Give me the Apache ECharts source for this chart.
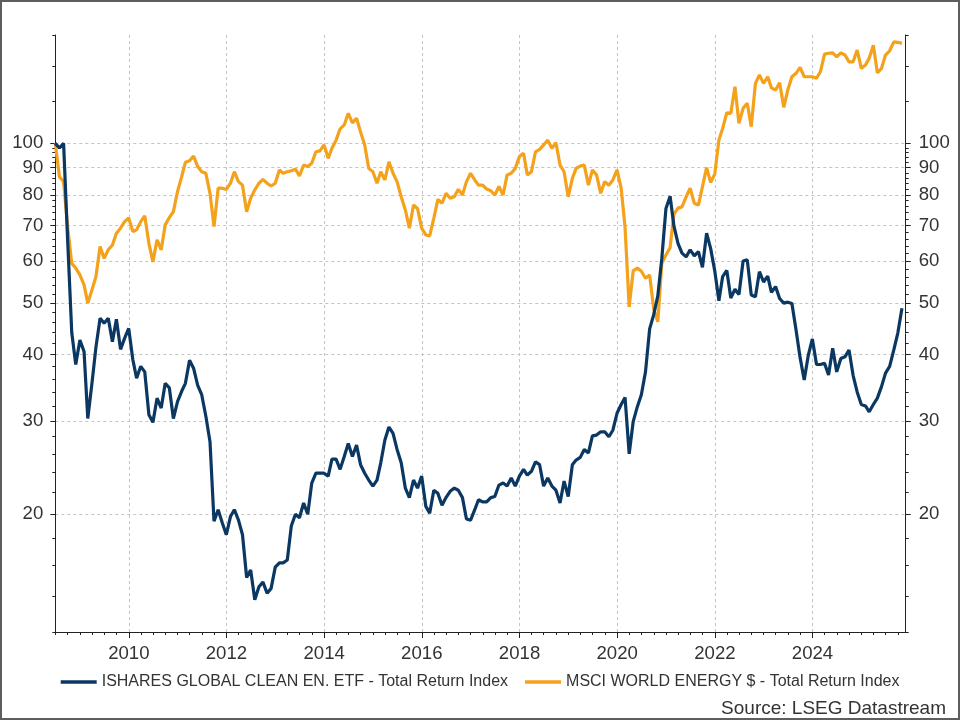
<!DOCTYPE html>
<html lang="en">
<head>
    <meta charset="UTF-8">
    <title>Clean energy vs world energy</title>
    <script src="https://cdn.jsdelivr.net/npm/echarts@6/dist/echarts.min.js"></script>
    <style>
        html, body { margin: 0; padding: 0; background: #fff; }
        #main { width: 960px; height: 720px; }
    </style>
</head>
<body>

<div id="main"></div>

<script type="text/javascript">
    // monthly values, first point = end of June 2008 (indexed to 100)
    var firstYear = 2008, firstMonth = 6;

    var cleanEnergy = [
        100, 98, 100, 66, 44, 38.3, 42.6, 40.5, 30.3, 35.3, 41.3, 46.8,
        45.8, 46.8, 42.3, 46.6, 40.9, 42.9, 44.8, 39.1, 36.1, 38.0, 37.1, 30.8,
        29.8, 33.1, 31.7, 35.3, 34.6, 30.3, 32.6, 34.1, 35.3, 39.0, 37.7, 35.0,
        33.6, 30.6, 27.4, 19.4, 20.4, 19.3, 18.3, 19.8, 20.4, 19.5, 18.3, 15.2,
        15.7, 13.8, 14.6, 14.9, 14.2, 14.5, 15.9, 16.2, 16.2, 16.4, 19.0, 20.0,
        19.7, 21.0, 20.0, 22.9, 23.9, 23.9, 23.9, 23.6, 25.4, 25.4, 24.3, 25.7,
        27.2, 25.7, 27.0, 24.8, 23.9, 23.2, 22.6, 23.2, 25.0, 27.6, 29.2, 28.4,
        26.5, 25.0, 22.4, 21.5, 23.2, 22.4, 23.6, 20.7, 20.1, 22.2, 21.9, 20.8,
        21.5, 22.1, 22.4, 22.2, 21.5, 19.6, 19.5, 20.4, 21.3, 21.1, 21.1, 21.5,
        21.6, 22.7, 22.9, 22.6, 23.4, 22.6, 23.6, 24.3, 23.7, 24.1, 25.1, 24.8,
        22.6, 23.4, 22.6, 22.2, 21.0, 23.1, 21.6, 24.8, 25.3, 25.6, 26.5, 26.1,
        28.1, 28.2, 28.6, 28.6, 28.0, 28.8, 31.0, 32.2, 33.2, 26.0, 29.9, 31.9,
        33.6, 37.1, 44.7, 47.5, 51.6, 60.7, 75.4, 79.5, 70.0, 64.8, 62.1, 61.1,
        63.0, 61.4, 62.5, 58.4, 67.7, 63.4, 57.5, 50.5, 56.1, 57.6, 51.1, 53.1,
        51.9, 60.0, 60.3, 51.8, 51.4, 57.3, 54.8, 56.2, 52.4, 53.7, 51.0, 50.0,
        50.2, 49.9, 44.5, 39.5, 35.8, 39.8, 42.8, 38.3, 38.3, 38.5, 36.6, 41.1,
        37.1, 39.3, 39.6, 40.8, 36.5, 34.0, 32.2, 32.0, 31.2, 32.2, 33.1, 34.8,
        36.9, 38.0, 40.8, 43.9, 48.9
    ];

    var worldEnergy = [
        100, 86.5, 84.7, 69.7, 59.4, 58.2, 56.5, 54.1, 50.0, 52.9, 56.1, 63.9,
        60.7, 63.0, 64.3, 67.7, 69.2, 71.2, 72.3, 68.2, 68.7, 71.2, 73.0, 64.8,
        59.8, 65.8, 63.0, 70.2, 72.5, 74.3, 81.1, 86.5, 92.1, 92.7, 94.6, 90.4,
        88.4, 87.8, 80.5, 69.7, 82.3, 82.3, 81.9, 84.1, 88.4, 84.7, 83.4, 74.3,
        78.8, 81.7, 84.1, 85.5, 84.1, 83.1, 84.1, 89.1, 87.8, 88.4, 88.8, 89.4,
        86.8, 91.0, 90.4, 91.7, 96.4, 96.8, 99.3, 93.7, 97.9, 101.4, 106.5, 108.3,
        113.9, 109.3, 111.5, 105.1, 99.3, 89.7, 88.4, 84.1, 88.4, 85.3, 92.3, 87.8,
        84.7, 79.3, 74.9, 69.2, 76.5, 75.4, 69.2, 67.2, 66.9, 72.3, 78.4, 77.1,
        80.5, 78.8, 79.3, 81.9, 79.9, 84.7, 87.8, 85.3, 83.4, 83.4, 82.0, 81.4,
        79.9, 82.9, 79.9, 87.2, 87.8, 89.7, 94.4, 95.8, 87.2, 88.4, 96.4, 97.4,
        99.3, 101.4, 97.9, 100.3, 91.0, 88.4, 79.3, 85.9, 89.7, 90.6, 91.0, 83.4,
        89.1, 87.2, 80.5, 84.7, 83.4, 85.3, 89.1, 82.3, 69.5, 49.2, 57.5, 58.2,
        57.4, 55.7, 56.5, 48.8, 46.1, 59.4, 61.6, 63.6, 73.5, 75.5, 75.9, 79.3,
        82.3, 77.1, 76.5, 82.9, 90.0, 84.4, 87.5, 101.4, 106.7, 114.2, 113.9, 127.8,
        109.1, 116.4, 119.0, 107.5, 129.7, 134.5, 129.7, 133.5, 127.2, 126.0, 130.1, 116.9,
        126.0, 133.5, 135.5, 139.0, 133.5, 133.5, 133.5, 132.6, 136.4, 147.3, 147.8, 148.1,
        145.6, 148.1, 146.7, 142.4, 142.4, 149.9, 138.4, 140.4, 144.6, 153.1, 135.8, 138.4,
        146.7, 149.4, 155.3, 155.0, 154.3
    ];

    var seriesNames = [
        'ISHARES GLOBAL CLEAN EN. ETF - Total Return Index',
        'MSCI WORLD ENERGY $ - Total Return Index'
    ];
    var seriesColors = ['#0b3763', '#f4a11c'];

    var yLabelValues = [20, 30, 40, 50, 60, 70, 80, 90, 100];
    var yMinorValues = [12, 14, 16, 18, 22, 24, 26, 28, 32, 34, 36, 38,
        42, 44, 46, 48, 52, 54, 56, 58, 62, 64, 66, 68, 72, 74, 76, 78,
        82, 84, 86, 88, 92, 94, 96, 98, 120, 140, 160];
    var xLabelYears = [2010, 2012, 2014, 2016, 2018, 2020, 2022, 2024];

    // dates: last day of each month (timestamps on a value axis)
    var dates = cleanEnergy.map(function (v, i) {
        return new Date(firstYear, firstMonth + i, 0).getTime();
    });
    var xMin = dates[0];
    var xMax = new Date(2025, 10, 28).getTime();

    var yearTicks = xLabelYears.map(function (y) { return new Date(y, 0, 1).getTime(); });
    var quarterTicks = [];
    for (var y = 2008; y <= 2025; y++) {
        for (var m = 0; m < 12; m += 3) {
            var t = new Date(y, m, 1).getTime();
            if (t > xMin && t < xMax) quarterTicks.push(t);
        }
    }

    var axisColor = '#222';
    var labelColor = '#333';
    var fontFamily = 'Liberation Sans, Arial, sans-serif';
    var gridStyle = { color: '#c4c4c4', type: [3, 3], width: 1 };

    function pairs(values) {
        return values.map(function (v, i) { return [dates[i], v]; });
    }

    function yAxisBase(position, withLabels) {
        return {
            type: 'log',
            logBase: 10,
            min: 12,
            max: 160,
            position: position,
            axisLine: { show: withLabels, lineStyle: { color: axisColor, width: 1 } },
            axisTick: {
                show: true,
                inside: false,
                length: withLabels ? 5 : 3,
                customValues: withLabels ? yLabelValues : yMinorValues,
                lineStyle: { color: axisColor, width: 1 }
            },
            axisLabel: withLabels ? {
                show: true,
                customValues: yLabelValues,
                margin: position === 'left' ? 12 : 13,
                color: labelColor,
                fontSize: 18.6,
                fontFamily: fontFamily,
                formatter: function (v) { return Math.round(v); }
            } : { show: false },
            splitLine: { show: false }
        };
    }

    function xAxisBase(major) {
        return {
            type: 'value',
            min: xMin,
            max: xMax,
            position: 'bottom',
            axisLine: { show: major, onZero: false, lineStyle: { color: axisColor, width: 1 } },
            axisTick: {
                show: true,
                length: major ? 6 : 3,
                customValues: major ? yearTicks : quarterTicks,
                lineStyle: { color: axisColor, width: 1 }
            },
            axisLabel: major ? {
                show: true,
                customValues: yearTicks,
                margin: 12,
                color: labelColor,
                fontSize: 18.6,
                fontFamily: fontFamily,
                formatter: function (v) { return new Date(v).getFullYear(); }
            } : { show: false },
            splitLine: major ? { show: true, lineStyle: gridStyle } : { show: false }
        };
    }

    var myChart = echarts.init(document.getElementById('main'));

    var leftMajor = yAxisBase('left', true);
    leftMajor.splitLine = { show: true, lineStyle: gridStyle };

    var option = {
        backgroundColor: '#fff',
        animation: false,
        grid: {
            left: 55.3, right: 54.3, top: 35, bottom: 88,
            containLabel: false,
            outerBoundsMode: 'none'
        },
        legend: {
            left: 60.7,
            top: 674,
            padding: 0,
            icon: 'rect',
            itemWidth: 36,
            itemHeight: 3.5,
            itemGap: 17,
            data: seriesNames,
            textStyle: { color: labelColor, fontSize: 16, fontFamily: fontFamily }
        },
        graphic: [
            {
                type: 'rect',
                shape: { x: 1, y: 1, width: 958, height: 718 },
                style: { fill: 'none', stroke: '#5e5e5e', lineWidth: 2 },
                silent: true
            },
            {
                type: 'text',
                right: 14,
                top: 699,
                style: {
                    text: 'Source: LSEG Datastream',
                    fill: labelColor,
                    font: '19px ' + fontFamily
                }
            }
        ],
        xAxis: [xAxisBase(true), xAxisBase(false)],
        yAxis: [
            leftMajor,
            yAxisBase('right', true),
            yAxisBase('left', false),
            yAxisBase('right', false)
        ],
        series: [
            {
                name: seriesNames[0],
                type: 'line',
                data: pairs(cleanEnergy),
                showSymbol: false,
                symbol: 'none',
                color: seriesColors[0],
                lineStyle: { width: 3.2, color: seriesColors[0] },
                z: 3
            },
            {
                name: seriesNames[1],
                type: 'line',
                data: pairs(worldEnergy),
                showSymbol: false,
                symbol: 'none',
                color: seriesColors[1],
                lineStyle: { width: 3.2, color: seriesColors[1] },
                z: 2
            }
        ]
    };

    myChart.setOption(option);
</script>

</body>
</html>
